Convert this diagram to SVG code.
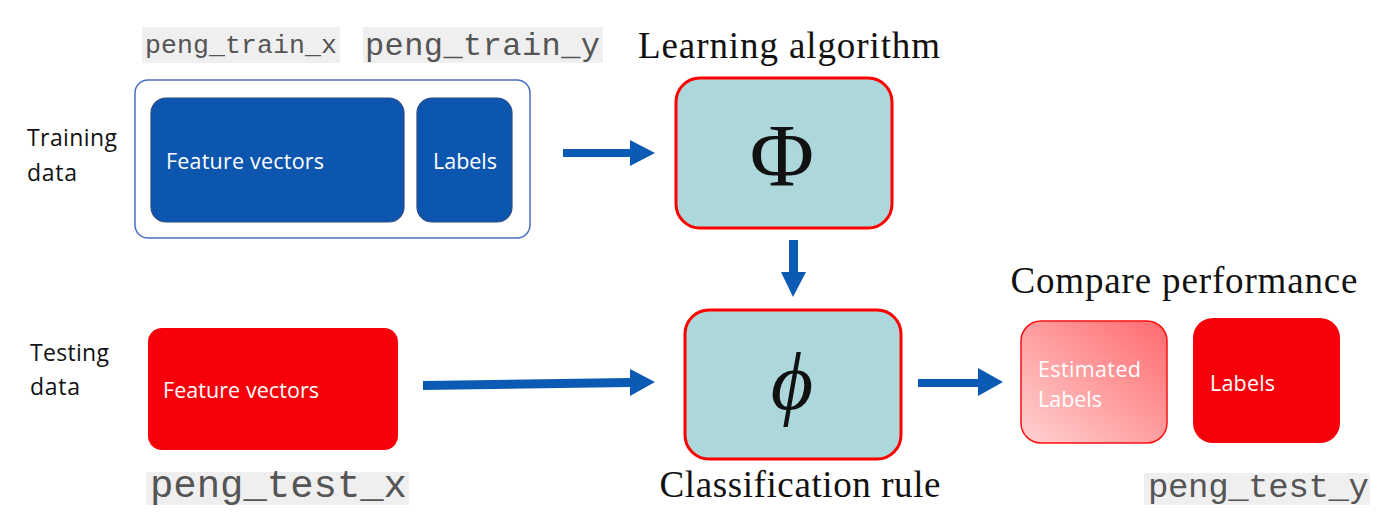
<svg xmlns="http://www.w3.org/2000/svg" width="1378" height="526" viewBox="0 0 1378 526">
<defs>
<linearGradient id="estGrad" x1="0" y1="1" x2="1" y2="0">
<stop offset="0" stop-color="#FFD2D2"/>
<stop offset="1" stop-color="#FF6A6E"/>
</linearGradient>
<style>
.sans{font-family:"Open Sans","Liberation Sans",Arial,sans-serif;}
.serif{font-family:"Liberation Serif","DejaVu Serif",serif;fill:#111;}
.mono{font-family:"Liberation Mono","Courier New",monospace;fill:#555555;}
.codebg{fill:#EFEFEF;}
.blue{fill:#0C56B0;stroke:#2C4C80;stroke-width:1.2;}
.red{fill:#F7000A;}
.teal{fill:#ADD8DB;stroke:#FF0000;stroke-width:3;}
.wt{fill:#FFFFFF;font-size:21.5px;}
.bk{fill:#111111;font-size:23px;}
.arrow{fill:#0B5AB4;}
</style>
</defs>
<rect width="1378" height="526" fill="#FFFFFF"/>

<g id="train-code-x">
<rect class="codebg" x="142" y="27" width="198" height="36"/>
<text class="mono" x="145" y="53" font-size="26.5" textLength="192">peng_train_x</text>
</g>
<g id="train-code-y">
<rect class="codebg" x="363" y="27" width="240" height="36"/>
<text class="mono" x="365" y="55" font-size="32" textLength="235">peng_train_y</text>
</g>

<g id="training-label">
<text class="sans bk" x="27" y="146" textLength="90">Training</text>
<text class="sans bk" x="27" y="181" textLength="50">data</text>
</g>

<g id="training-data">
<rect x="135" y="80" width="395" height="158" rx="13" fill="#FFFFFF" stroke="#4A6FC0" stroke-width="1.5"/>
<g id="train-features">
<rect class="blue" x="151" y="98" width="253" height="124" rx="15"/>
<text class="sans wt" x="166" y="169" textLength="158">Feature vectors</text>
</g>
<g id="train-labels">
<rect class="blue" x="417" y="98" width="95" height="124" rx="15"/>
<text class="sans wt" x="433" y="169" textLength="64">Labels</text>
</g>
</g>

<g id="learning-algorithm">
<text class="serif" x="789" y="58" font-size="37" text-anchor="middle" textLength="302">Learning algorithm</text>
<rect class="teal" x="676" y="78" width="216" height="150" rx="24"/>
<text class="serif" x="782" y="185" font-size="88" text-anchor="middle">Φ</text>
</g>

<g id="testing-label">
<text class="sans bk" x="30" y="361" textLength="79">Testing</text>
<text class="sans bk" x="30" y="395" textLength="50">data</text>
</g>

<g id="test-features">
<rect class="red" x="148" y="328" width="250" height="122" rx="14"/>
<text class="sans wt" x="163" y="398" textLength="156">Feature vectors</text>
</g>
<g id="test-code-x">
<rect class="codebg" x="146" y="472" width="263" height="33"/>
<text class="mono" x="150" y="497" font-size="39" textLength="257">peng_test_x</text>
</g>

<g id="classification-rule">
<rect class="teal" x="685" y="310" width="216" height="149" rx="24"/>
<text class="serif" x="792" y="409" font-size="82" font-style="italic" text-anchor="middle">ϕ</text>
<text class="serif" x="800" y="497" font-size="37" text-anchor="middle" textLength="281">Classification rule</text>
</g>

<g id="compare-performance">
<text class="serif" x="1184" y="293" font-size="37" text-anchor="middle" textLength="347">Compare performance</text>
<g id="estimated-labels">
<rect x="1021" y="321" width="146" height="122" rx="20" fill="url(#estGrad)" stroke="#FF1010" stroke-width="1.5"/>
<text class="sans wt" x="1038" y="377" textLength="103">Estimated</text>
<text class="sans wt" x="1038" y="407" textLength="64">Labels</text>
</g>
<g id="true-labels">
<rect class="red" x="1193" y="318" width="147" height="125" rx="20"/>
<text class="sans wt" x="1210" y="391" textLength="65">Labels</text>
</g>
</g>
<g id="test-code-y">
<rect class="codebg" x="1144" y="473" width="226" height="32"/>
<text class="mono" x="1148" y="497" font-size="34" textLength="221">peng_test_y</text>
</g>

<g id="connectors">
<polygon class="arrow" points="563,149 630,149 630,140 655,153 630,166 630,157 563,157"/>
<polygon class="arrow" points="789,240 798,240 798,272 806,272 793,297 781,272 789,272"/>
<polygon class="arrow" points="423,381 630,378 630,369 655,382 630,396 630,387 423,390"/>
<polygon class="arrow" points="918,379 978,379 978,368 1003,382 978,396 978,387 918,387"/>
</g>
</svg>
